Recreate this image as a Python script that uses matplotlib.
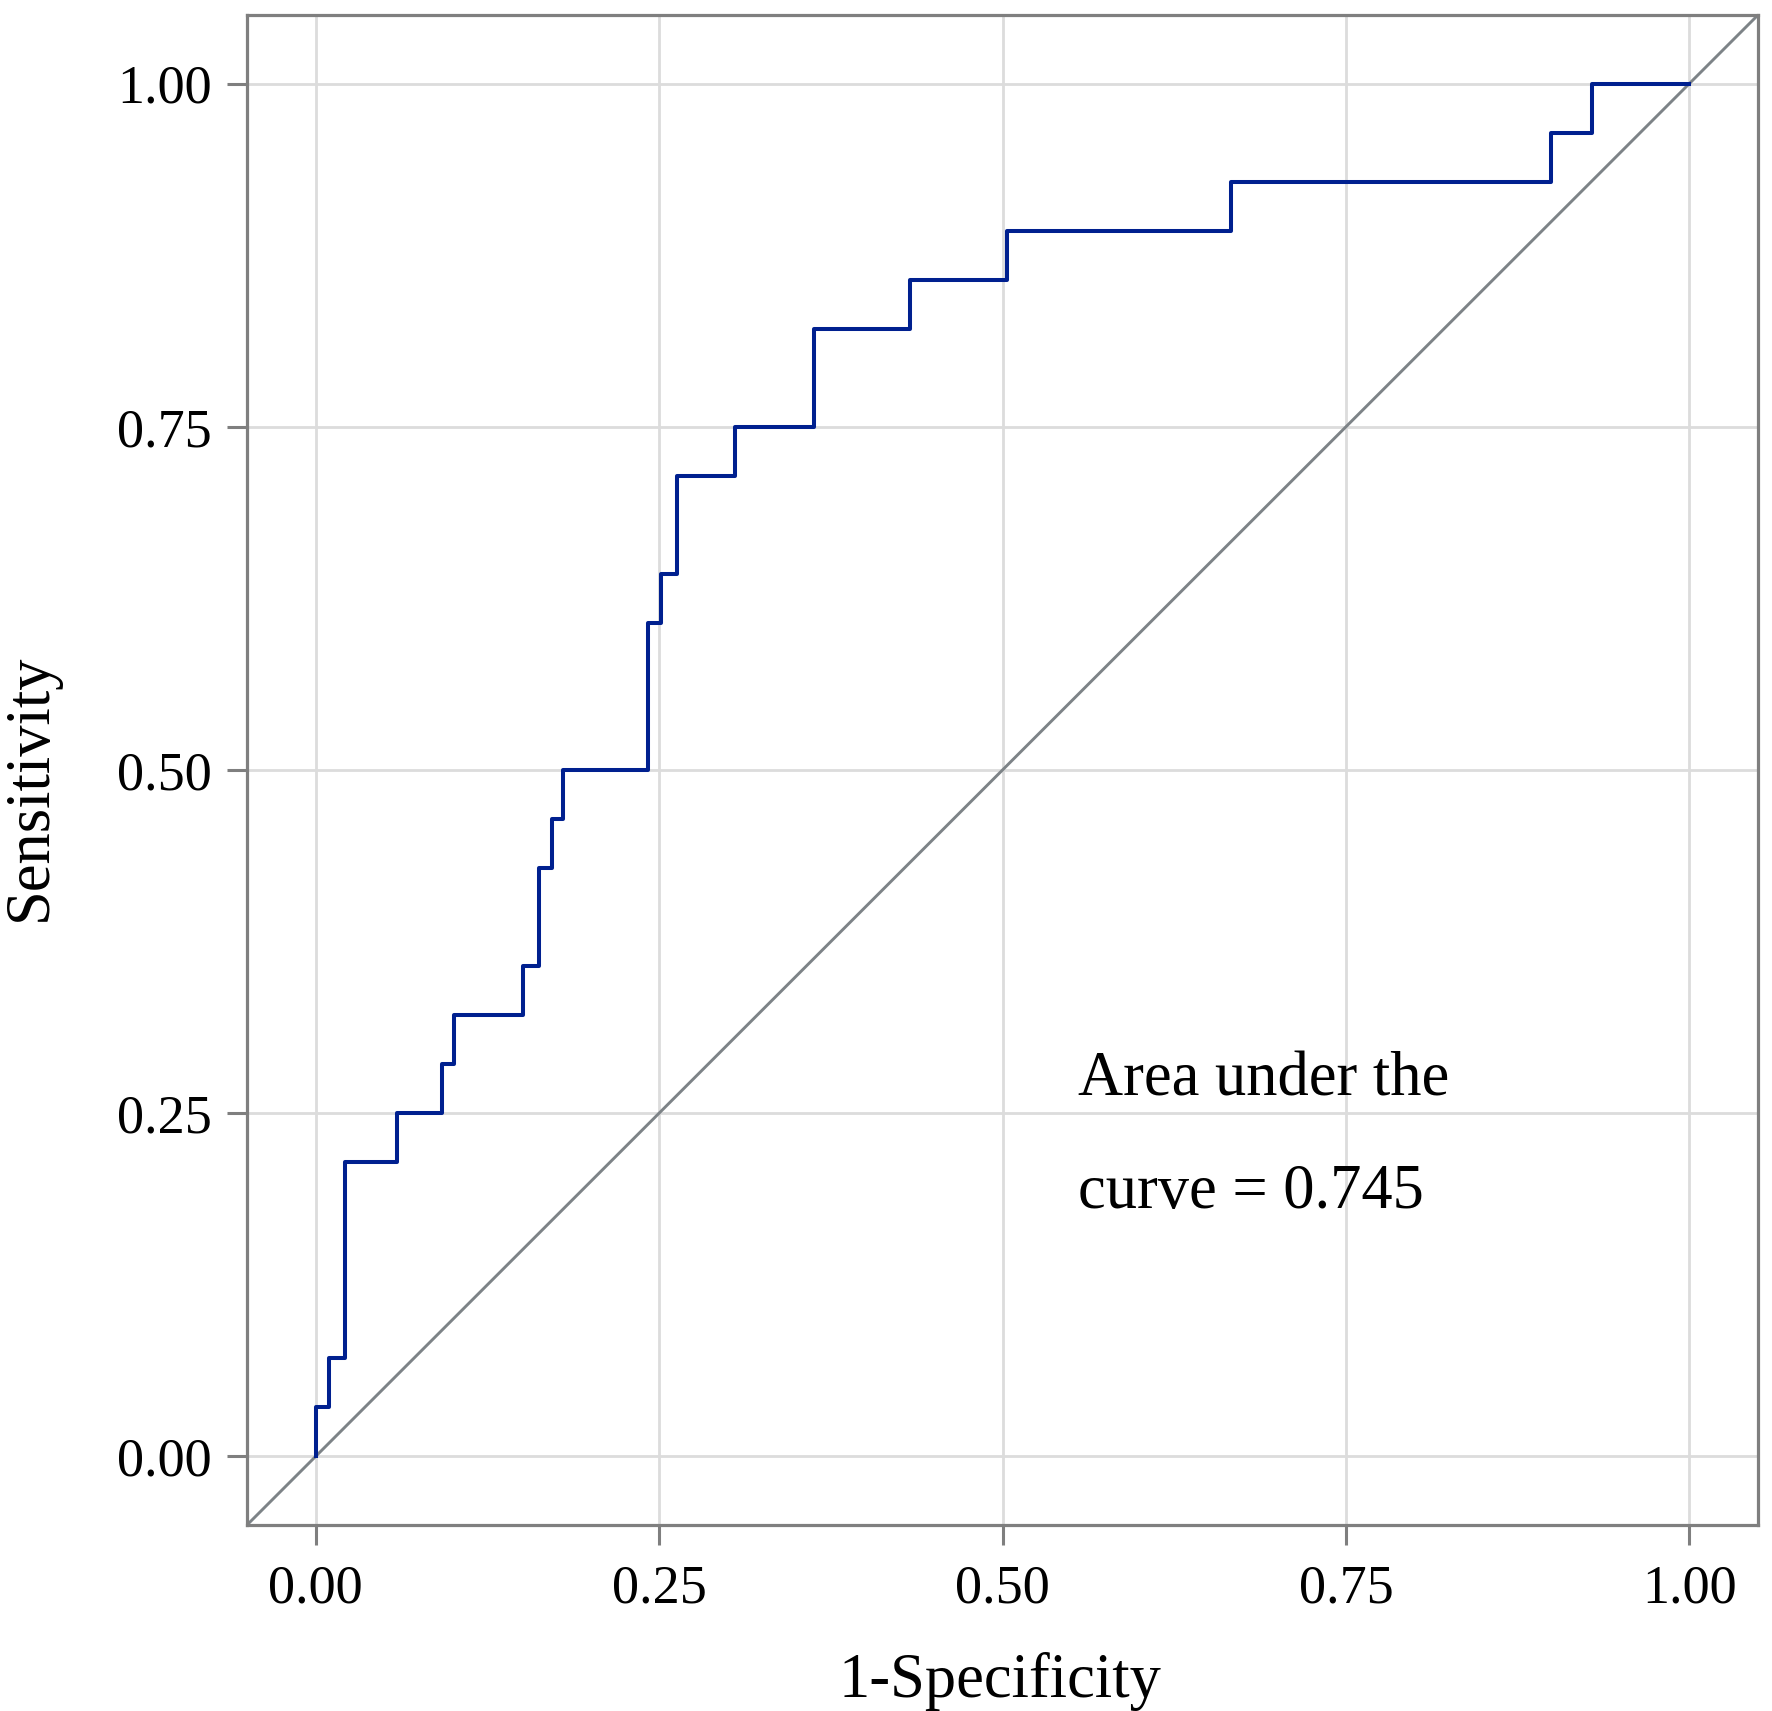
import numpy as np
import matplotlib
matplotlib.use('Agg')
import matplotlib.pyplot as plt

plt.rcParams['font.family'] = ['Liberation Serif', 'DejaVu Serif']

# ROC curve corner points, 28 positives
n_pos = 28
tp_count = [0, 1, 2, 6, 7, 8, 9, 10, 12, 13, 14, 17, 18, 20, 21, 23, 24, 25, 26, 27, 28, 28]
fpr = [0, 0, 0.010, 0.0217, 0.0594, 0.092, 0.1007, 0.1507, 0.1624, 0.172, 0.180,
       0.2421, 0.2516, 0.2631, 0.305, 0.3626, 0.433, 0.503, 0.666, 0.899, 0.929, 1.0]
tpr = np.array(tp_count) / n_pos
ticks = [0.0, 0.25, 0.5, 0.75, 1.0]
tick_labels = ['0.00', '0.25', '0.50', '0.75', '1.00']
auc_text = ['Area under the', 'curve = 0.745']

W, H = 1772, 1711
fig = plt.figure(figsize=(W / 100, H / 100), dpi=100)
ax = fig.add_axes([247 / W, 1 - 1525 / H, (1758 - 247) / W, (1525 - 15) / H])

ax.set_xlim(-0.05, 1.05)
ax.set_ylim(-0.05, 1.05)

# grid
ax.set_xticks(ticks)
ax.set_yticks(ticks)
ax.set_xticklabels(tick_labels)
ax.set_yticklabels(tick_labels)
ax.grid(True, color='#dcdcdc', linewidth=2.0)
ax.set_axisbelow(True)

# diagonal reference line across the whole panel
ax.plot([-0.05, 1.05], [-0.05, 1.05], color='#7d8387', linewidth=2.1, zorder=2)

# roc curve
ax.plot(fpr, tpr, drawstyle='steps-post', color='#00208f', linewidth=2.9, zorder=3)

for s in ax.spines.values():
  s.set_color('#7f7f7f')
  s.set_linewidth(2.3)

ax.tick_params(axis='both', length=14.4, width=2.2, color='#7f7f7f',
               labelsize=39, labelcolor='black')
ax.tick_params(axis='x', pad=14)
ax.tick_params(axis='y', pad=11)

# auc annotation
ax.text(0.555, 0.263, auc_text[0], fontsize=45, ha='left', va='baseline')
ax.text(0.555, 0.181, auc_text[1], fontsize=45, ha='left', va='baseline')

# axis titles
fig.text(1000 / W, 1 - 1697 / H, '1-Specificity', fontsize=45, ha='center', va='baseline')
fig.text(31 / W, 1 - 787 / H, 'Sensitivity', fontsize=45, rotation=90,
         ha='center', va='center')

fig.savefig('out.png', dpi=100)
